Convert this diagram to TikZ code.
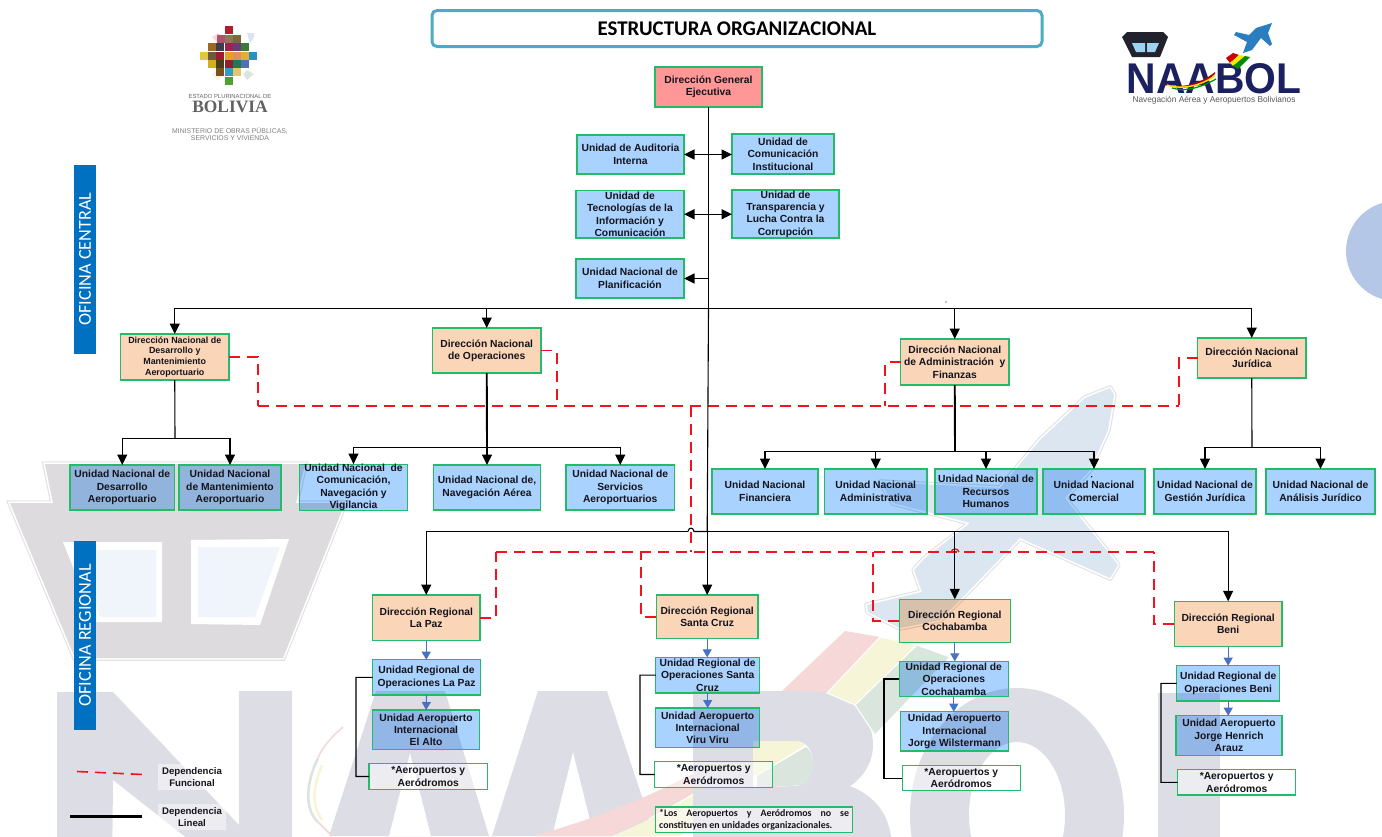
\documentclass[tikz,border=0pt]{standalone}
\usepackage{fontspec}
\setmainfont{Liberation Sans}
\newfontfamily\carl{Carlito}
\newfontfamily\lserif{Liberation Serif}
\usetikzlibrary{arrows.meta,calc}
\definecolor{wmgrey}{HTML}{DDDDE6}
\definecolor{towergrey}{HTML}{DDDBDD}
\definecolor{towerline}{HTML}{E2E2E2}
\definecolor{winfill}{HTML}{EFF5FB}
\definecolor{planeblue}{HTML}{DCE6F1}
\definecolor{ribred}{HTML}{F6D8D8}
\definecolor{ribyel}{HTML}{F7F5D8}
\definecolor{ribgrn}{HTML}{DAE6DD}
\definecolor{boxgreen}{HTML}{22BB6A}
\definecolor{boxblue}{HTML}{A9D2FE}
\definecolor{boxpeach}{HTML}{FAD5B7}
\definecolor{boxrose}{HTML}{FF9797}
\definecolor{depred}{HTML}{F5121F}
\definecolor{arrblue}{HTML}{4472C4}
\definecolor{bannerblue}{HTML}{0070C0}
\definecolor{titleline}{HTML}{4BACC6}
\definecolor{softblue}{HTML}{B4C7E7}
\definecolor{navy}{HTML}{1B2160}
\definecolor{towerdark}{HTML}{22212E}
\definecolor{winblue}{HTML}{9CD3F0}
\definecolor{logoplane}{HTML}{2A7DBE}
\definecolor{inktext}{HTML}{14141C}
\newcommand\boxfnt{\fontsize{10.3}{12.4}\selectfont\bfseries}
\newcommand\smallfnt{\fontsize{8.9}{10.7}\selectfont\bfseries}
\tikzset{
  base/.style={draw=boxgreen,line width=1.1,inner sep=0,outer sep=0,align=center,text=inktext,font=\boxfnt},
  ublue/.style={base,preaction={fill=boxblue,blend mode=multiply}},
  upeach/.style={base,preaction={fill=boxpeach,blend mode=multiply}},
  urose/.style={base,preaction={fill=boxrose,blend mode=multiply}},
  uwhite/.style={base,fill=white,fill opacity=.45,text opacity=1},
  lin/.style={draw=black,line width=1.1},
  linb/.style={draw=black,line width=1.9},
  arr/.style={lin,-{Triangle[length=10.5,width=10]}},
  arrb/.style={lin,{Triangle[length=10.5,width=10]}-{Triangle[length=10.5,width=10]}},
  blu/.style={draw=arrblue,line width=1.1,-{Triangle[length=8,width=9]}},
  dep/.style={draw=depred,line width=1.6,dash pattern=on 11 off 7},
  banner/.style={fill=bannerblue,inner sep=0,outer sep=0,text=white,rotate=90,font=\carl\fontsize{18.2}{20}\selectfont,minimum width=189,minimum height=22},
  legtxt/.style={align=center,text=inktext,font=\fontsize{9.6}{12}\selectfont\bfseries,inner sep=1,fill=white,fill opacity=.45,text opacity=1,minimum width=68,minimum height=26},
}
\newcommand\bx[7]{\node[#6,minimum width={(#4-(#2))*1pt},minimum height={(#5-(#3))*1pt}] (#1) at ({(#2+#4)/2},{(#3+#5)/2}) {#7};}
\begin{document}
\begin{tikzpicture}[x=1pt,y=-1pt]
\useasboundingbox (0,0) rectangle (1382,836);
\clip (0,0) rectangle (1382,836);
% ---------- watermark
\fill[softblue] (1396,251) circle (50);
% tower
\def\towerpath{(45,464) -- (305,464) -- (296,503) -- (345,503) -- (283,658) -- (75,658) -- (10,503) -- (53,503) -- cycle}
\draw[towerline,line width=5.5,line join=miter] \towerpath;
\draw[white,line width=3.2,line join=miter] \towerpath;
\fill[towergrey] \towerpath;
\fill[white] (63,542) -- (162,542) -- (162,622) -- (95,622) -- cycle;
\fill[winfill] (78,550) -- (156,550) -- (156,617) -- (100,617) -- cycle;
\fill[white] (191,540) -- (289,539) -- (260,625) -- (191,624) -- cycle;
\fill[winfill] (198,547) -- (280,547) -- (255,617) -- (198,617) -- cycle;
% N
\fill[wmgrey] (57,692) -- (113,692) -- (239,825) -- (239,691) -- (292,691) -- (292,880) -- (240,880) -- (113,780) -- (112,880) -- (57,880) -- cycle;
% A A
\fill[wmgrey,even odd rule] (376,691) -- (445,691) -- (489,836) -- (492,836) -- (538,691) -- (607,691) -- (655,836) -- (329,836) -- cycle
  (410,753) -- (431,836) -- (389,836) -- cycle
  (573,752) -- (594,836) -- (552,836) -- cycle;
% lower ribbon
\fill[ribred] (533,836) .. controls (610,815) and (680,785) .. (755,738) -- (755,755) .. controls (700,790) and (660,815) .. (610,836) -- cycle;
\fill[ribyel] (612,836) .. controls (662,815) and (700,792) .. (755,757) -- (755,775) .. controls (720,800) and (700,820) .. (680,836) -- cycle;
% B
\fill[wmgrey,even odd rule] (693,691) -- (815,691) .. controls (850,691) and (873,715) .. (873,745) .. controls (873,765) and (860,780) .. (850,786) .. controls (875,796) and (892,815) .. (892,850) -- (693,850) -- cycle
  (753,741) -- (795,741) .. controls (806,741) and (813,750) .. (813,762) .. controls (813,775) and (806,786) .. (795,786) -- (753,788) -- cycle;
\fill[ribyel] (753,741) -- (795,741) .. controls (800,741) and (803,743) .. (805,745) -- (757,775) -- (753,775) -- cycle;
\fill[ribgrn] (757,776) -- (806,747) .. controls (810,750) and (813,755) .. (813,762) .. controls (813,773) and (808,782) .. (803,785) -- (757,788) -- cycle;
% upper ribbon
\fill[ribred] (845,631) -- (880,637) -- (832,692) -- (782,691) -- cycle;
\fill[ribyel,draw=white,line width=1] (880,637) -- (917,645) -- (855,705) -- (827,693) -- cycle;
\fill[ribgrn,draw=white,line width=1] (917,645) -- (950,657) -- (875,735) -- (855,705) -- cycle;
% left crescent
\draw[ribred,line width=1.6] (343,727) .. controls (330,738) and (322,748) .. (318,758);
\draw[ribgrn,line width=2.6] (318,758) .. controls (305,785) and (305,810) .. (318,822);
\draw[ribyel,line width=2.6] (322,765) .. controls (312,790) and (312,805) .. (322,820);
\draw[ribred,line width=2] (318,822) -- (332,836);
% O
\fill[wmgrey,even odd rule] (1017,815) ellipse [x radius=107,y radius=127] (1017,815) ellipse [x radius=48,y radius=73];
% L
\fill[wmgrey] (1158,693) -- (1220,693) -- (1220,840) -- (1158,840) -- cycle;
% plane
\def\planepath{(1110,388) -- (1114,395) -- (1108,430) -- (1090,470) -- (1065,498) -- (1118,565) -- (1110,578) -- (1020,538) -- (960,600) -- (940,620) -- (900,628) -- (868,612) -- (867,605) -- (922,592) -- (914,570) -- (925,558) -- (970,523) -- (893,503) -- (880,482) -- (1000,488) -- (1040,440) -- (1085,398) -- cycle}
\draw[towerline,line width=5.5,line join=round] \planepath;
\draw[white,line width=3.2,line join=round] \planepath;
\fill[planeblue] \planepath;
% ---------- Bolivia logo
\fill[white] (163,10) rectangle (297,145);
\fill[ribred] (212,37) -- (218,33) -- (224,37) -- (218,43) -- cycle;
\fill[softblue!50] (248,37) -- (247,33) -- (254,33) -- (254,37) -- (250,43) -- cycle;
\fill[ribyel] (212,74) -- (218,70) -- (224,74) -- (218,80) -- cycle;
\fill[ribgrn] (243,74) -- (247,70) -- (254,74) -- (247,80) -- cycle;
\foreach \x/\y/\c in {225/26/B01E2D,
  217/35/B0506A,225/35/8A7A5A,233/35/7A6A3A,
  208/43/9A6A20,216/43/3C3C50,225/43/A02050,233/43/6A3A7A,241/43/3A7A3A,
  200/52/E0C840,208/52/6A5A40,216/52/A01A30,225/52/E8A020,233/52/E09060,241/52/E0B030,249/52/2A90C0,
  208/60/D0B020,216/60/4A3A20,225/60/902030,233/60/207A50,241/60/5070B0,
  216/68/7A5020,225/68/30A0C0,233/68/E0C870,
  225/77/50A030}{\definecolor{cellc}{HTML}{\c}\fill[cellc] (\x,\y) rectangle ++(8,8.2);}
\node[inner sep=0,font=\fontsize{5.9}{7}\selectfont,text=black!60] (logoA) at (230,96) {ESTADO PLURINACIONAL DE};
\node[inner sep=0,font=\lserif\bfseries\fontsize{17.4}{19}\selectfont,text=black!62] (logoB) at (230,106.5) {BOLIVIA};
\node[inner sep=0,align=center,font=\fontsize{6.9}{7.6}\selectfont,text=black!50] (logoC) at (230,134) {MINISTERIO DE OBRAS PÚBLICAS,\\SERVICIOS Y VIVIENDA};
% ---------- NAABOL logo
\fill[towerdark] (1127,32) -- (1163,32) -- (1168,37) -- (1160,57) -- (1132,57) -- (1122,37) -- cycle;
\fill[winblue] (1132,43) -- (1145,43) -- (1145,52) -- (1136,52) -- cycle;
\fill[winblue] (1147,43) -- (1159,43) -- (1155,52) -- (1147,52) -- cycle;
\node[inner sep=0,xscale=.95,text height=31,text depth=0,font=\fontsize{43}{43}\selectfont\bfseries,text=navy] (logoD) at (1214,77.5) {NAABOL};
\fill[red!75!black] (1163,83) .. controls (1180,90) and (1200,84) .. (1215,72) -- (1215,74) .. controls (1200,88) and (1178,92) .. (1163,83) -- cycle;
\draw[yellow!85!orange,line width=1.4] (1167,85) .. controls (1182,90) and (1200,86) .. (1215,76);
\draw[green!55!black,line width=1.2] (1172,88) .. controls (1185,92) and (1200,88) .. (1216,79);
\fill[red!80!black] (1226,58) -- (1233,53) -- (1239,55) -- (1230,63) -- cycle;
\fill[yellow!90!orange] (1230,63) -- (1239,55) -- (1245,56) -- (1233,66) -- cycle;
\fill[green!55!black] (1233,66) -- (1245,56) -- (1250,57) -- (1238,69) -- cycle;
\fill[logoplane] (1272,23) -- (1268,33) -- (1272,44) -- (1270,46) -- (1261,38) -- (1252,50) -- (1243,53) -- (1247,42) -- (1234,35) -- (1236,32) -- (1249,35) -- (1256,28) -- cycle;
\node[inner sep=0,xscale=.98,font=\fontsize{8.5}{9.5}\selectfont,text=black!65,text height=6.4,text depth=1.8] (logoE) at (1214,99.8) {Navegación Aérea y Aeropuertos Bolivianos};
% ---------- title, banners
\node[draw=titleline,line width=3,rounded corners=5,fill=white,minimum width=610,minimum height=36,inner sep=0,font=\carl\bfseries\fontsize{20.9}{24}\selectfont] (title) at (737,28.5) {ESTRUCTURA ORGANIZACIONAL};
\node[banner] (ofc) at (85,259) {OFICINA CENTRAL};
\node[banner] (ofr) at (85,635.5) {OFICINA REGIONAL};
% ---------- boxes
\bx{dge}{655}{67}{762}{107}{urose}{Dirección General\\Ejecutiva}
\bx{aud}{577}{135}{684}{174}{ublue}{Unidad de Auditoria\\Interna}
\bx{com}{732}{134}{834}{174}{ublue}{Unidad de\\Comunicación\\Institucional}
\bx{tec}{576}{190.5}{684}{238}{ublue}{Unidad de\\Tecnologías de la\\Información y\\Comunicación}
\bx{tra}{732}{190}{839}{238}{ublue}{Unidad de\\Transparencia y\\Lucha Contra la\\Corrupción}
\bx{pla}{576}{259}{684}{298}{ublue}{Unidad Nacional de\\Planificación}
\bx{dnd}{120.5}{334}{229}{380}{upeach,font=\smallfnt}{Dirección Nacional de\\Desarrollo y\\Mantenimiento\\Aeroportuario}
\bx{dno}{432.5}{328}{541}{373}{upeach}{Dirección Nacional\\de Operaciones}
\bx{dna}{900.5}{339}{1009}{385}{upeach}{Dirección Nacional\\de Administración~ y\\Finanzas}
\bx{dnj}{1197.5}{338}{1306}{378}{upeach}{Dirección Nacional\\Jurídica}
\bx{u1}{70}{465}{174.5}{510}{ublue}{Unidad Nacional de\\Desarrollo\\Aeroportuario}
\bx{u2}{179}{465}{281}{510}{ublue}{Unidad Nacional\\de Mantenimiento\\Aeroportuario}
\bx{u3}{299.5}{465}{407.5}{510}{ublue}{Unidad Nacional~ de\\Comunicación,\\Navegación y\\Vigilancia}
\bx{u4}{433.5}{465}{540.5}{510}{ublue}{Unidad Nacional de,\\Navegación Aérea}
\bx{u5}{566}{465}{674.5}{510}{ublue}{Unidad Nacional de\\Servicios\\Aeroportuarios}
\bx{u6}{712}{469}{818}{514}{ublue}{Unidad Nacional\\Financiera}
\bx{u7}{824.5}{469}{927}{514}{ublue}{Unidad Nacional\\Administrativa}
\bx{u8}{935}{469}{1037}{514}{ublue}{Unidad Nacional de\\Recursos\\Humanos}
\bx{u9}{1043}{469}{1145}{514}{ublue}{Unidad Nacional\\Comercial}
\bx{u10}{1154}{469}{1256}{514}{ublue}{Unidad Nacional de\\Gestión Jurídica}
\bx{u11}{1266}{469}{1375}{514}{ublue}{Unidad Nacional de\\Análisis Jurídico}
\bx{lp}{372.5}{595}{480}{640.7}{upeach}{Dirección Regional\\La Paz}
\bx{sc}{656.4}{595}{758}{638.7}{upeach}{Dirección Regional\\Santa Cruz}
\bx{cb}{899.3}{599.3}{1010.3}{642.3}{upeach}{Dirección Regional\\Cochabamba}
\bx{be}{1174.3}{601.3}{1282}{646.7}{upeach}{Dirección Regional\\Beni}
\bx{lpo}{372.5}{659.7}{480.6}{695}{ublue}{Unidad Regional de\\Operaciones La Paz}
\bx{sco}{655.8}{657.3}{759.5}{693}{ublue}{Unidad Regional de\\Operaciones Santa\\Cruz}
\bx{cbo}{899.3}{661.3}{1008.3}{696.7}{ublue}{Unidad Regional de\\Operaciones\\Cochabamba}
\bx{beo}{1176.7}{665.7}{1279.7}{701}{ublue}{Unidad Regional de\\Operaciones Beni}
\bx{lpa}{372.5}{710}{479.6}{749.7}{ublue}{Unidad Aeropuerto\\Internacional\\El Alto}
\bx{sca}{655.8}{708}{759.5}{747.7}{ublue}{Unidad Aeropuerto\\Internacional\\Viru Viru}
\bx{cba}{900.7}{711.7}{1008.3}{751}{ublue}{Unidad Aeropuerto\\Internacional\\Jorge Wilstermann}
\bx{bea}{1176}{715.7}{1282}{755.7}{ublue}{Unidad Aeropuerto\\Jorge Henrich\\Arauz}
\bx{lpx}{369}{763.7}{487.4}{789.3}{uwhite}{*Aeropuertos y\\Aeródromos}
\bx{scx}{654.7}{761.7}{772.7}{787.3}{uwhite}{*Aeropuertos y\\Aeródromos}
\bx{cbx}{902.3}{765.7}{1020.3}{790.7}{uwhite}{*Aeropuertos y\\Aeródromos}
\bx{bex}{1177.7}{769.7}{1295.7}{795}{uwhite}{*Aeropuertos y\\Aeródromos}
\bx{note}{655.8}{807}{852.5}{832.3}{uwhite,font=\carl\bfseries\fontsize{9.9}{12.6}\selectfont}{\makebox[190pt][s]{*Los Aeropuertos y Aeródromos no se}\\\makebox[190pt][l]{constituyen en unidades organizacionales.}}
% ---------- legend
\node[legtxt] (legf) at (192,777) {Dependencia\\Funcional};
\node[legtxt] (legl) at (192,817) {Dependencia\\Lineal};
\coordinate (lfa) at (77,771.5);
\coordinate (lfb) at (143,774.5);
\coordinate (lla) at (70,816.5);
\coordinate (llb) at (142,816.5);
\draw[dep] (lfa) -- (lfb);
\draw[black,line width=2.2] (lla) -- (llb);
% ---------- coordinates of the buses
\coordinate (busN) at (709,308.5);
\coordinate (busR) at (709,531.5);
\coordinate (redN) at (691,406);
\coordinate (redR) at (691,552);
\coordinate (redNa) at (258,406);
\coordinate (redNb) at (557,406);
\coordinate (redNc) at (885,406);
\coordinate (redNd) at (1179,406);
\coordinate (redRa) at (496,552);
\coordinate (redRb) at (641,552);
\coordinate (redRc) at (873,552);
\coordinate (redRd) at (1154,552);
\coordinate (hopa) at (688,531.5);
\coordinate (hopb) at (694,531.5);
\coordinate (b1) at (175,438.5);
\coordinate (b2) at (487,447.5);
\coordinate (b3) at (955,451.5);
\coordinate (b4) at (1252,447.5);
% ---------- red connectors
\draw[dep] (redNa) -- (redNd);
\draw[dep] (redRa) -- (redRd);
\draw[dep] (dnd.east) -| (redNa);
\draw[dep] (dno.east) -| (redNb);
\draw[dep] (dna.west) -| (redNc);
\draw[dep] (dnj.west) -| (redNd);
\draw[dep] (redN) -- (redR);
\draw[dep] (lp.east) -| (redRa);
\draw[dep] (sc.west) -| (redRb);
\draw[dep] (cb.west) -| (redRc);
\draw[dep] (be.west) -| (redRd);
\draw[depred,line width=1.4] (951,552) .. controls (952,548) and (958,548) .. (959,552);
% ---------- black connectors
\draw[linb] (dge.south) -- (dge.south |- busN);
\draw[lin] (dge.south |- busN) -- (sc.north |- busR);
\draw[arr] (sc.north |- busR) -- (sc.north);
\draw[arrb] (aud.east) -- (aud.east -| com.west);
\draw[arrb] (tec.east) -- (tec.east -| tra.west);
\draw[arr] (pla.east -| dge.south) -- (pla.east);
\draw[arr] (dge.south |- busN) -- (dnd.north |- busN) -- (dnd.north);
\draw[arr] (dge.south |- busN) -- (dno.north |- busN) -- (dno.north);
\draw[arr] (dge.south |- busN) -- (dna.north |- busN) -- (dna.north);
\draw[arr] (dge.south |- busN) -- (dnj.north |- busN) -- (dnj.north);
\draw[lin] (dnd.south) -- (b1);
\draw[arr] (b1) -- (u1.north |- b1) -- (u1.north);
\draw[arr] (b1) -- (u2.north |- b1) -- (u2.north);
\draw[linb] (dno.south) -- (b2);
\draw[arr] (b2) -- (u3.north |- b2) -- (u3.north);
\draw[arr] (b2) -- (u4.north);
\draw[arr] (b2) -- (u5.north |- b2) -- (u5.north);
\draw[linb] (dna.south) -- (b3);
\draw[arr] (b3) -- (u6.north |- b3) -- (u6.north);
\draw[arr] (b3) -- (u7.north |- b3) -- (u7.north);
\draw[arr] (b3) -- (u8.north |- b3) -- (u8.north);
\draw[arr] (b3) -- (u9.north |- b3) -- (u9.north);
\draw[lin] (dnj.south) -- (b4);
\draw[arr] (b4) -- (u10.north |- b4) -- (u10.north);
\draw[arr] (b4) -- (u11.north |- b4) -- (u11.north);
\draw[arr] (hopa) -- (lp.north |- hopa) -- (lp.north);
\draw[lin] (hopa) .. controls (688.5,527) and (693.5,527) .. (hopb) -- (busR);
\draw[arr] (busR) -- (cb.north |- busR) -- (cb.north);
\draw[arr] (busR) -- (be.north |- busR) -- (be.north);
\draw[blu] (lp.south) -- (lpo.north -| lp.south);
\draw[blu] (lpo.south) -- (lpa.north);
\draw[blu] (sc.south) -- (sco.north -| sc.south);
\draw[blu] (sco.south) -- (sca.north);
\draw[blu] (cb.south) -- (cbo.north -| cb.south);
\draw[blu] (cbo.south) -- (cba.north -| cbo.south);
\draw[blu] (be.south) -- (beo.north -| be.south);
\draw[blu] (beo.south) -- (bea.north -| beo.south);
\draw[lin] (lpo.west) -- (356,677.3) |- (lpx.west);
\draw[lin] (sco.west) -- (640,675.1) |- (scx.west);
\draw[lin] (cbo.west) -- (884,679) |- (cbx.west);
\draw[lin] (beo.west) -- (1161,683.3) |- (bex.west);
% ---------- stray specks
\fill[black] (946,302) circle (.7);
\fill[black] (926,405.5) circle (.7);
\fill[black] (1091.6,476.7) circle (.7);
\end{tikzpicture}
\end{document}
